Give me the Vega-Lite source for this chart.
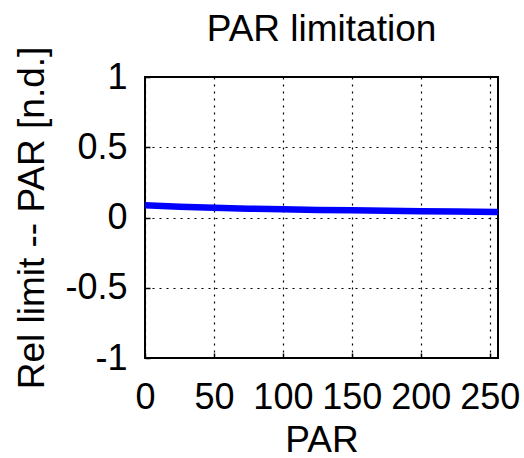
{
  "$schema": "https://vega.github.io/schema/vega-lite/v6.json",
  "width": 353,
  "height": 281,
  "autosize": "none",
  "padding": {"left": 145, "top": 77, "right": 26, "bottom": 100},
  "background": "white",
  "title": {"text": "PAR limitation", "font": "Liberation Sans", "fontSize": 37, "fontWeight": "normal", "color": "#000", "offset": -3},
  "config": {
    "view": {"stroke": "#000", "strokeWidth": 2},
    "axis": {
      "labelFont": "Liberation Sans", "labelFontSize": 36, "labelColor": "#000",
      "titleFont": "Liberation Sans", "titleFontSize": 37, "titleColor": "#000", "titleFontWeight": "normal",
      "grid": true, "gridColor": "#000", "gridDash": [2, 5], "gridWidth": 1.2, "gridOpacity": 1,
      "domain": false, "tickColor": "#000", "tickSize": -5, "tickWidth": 1.5
    }
  },
  "data": {"values": [
    {"PAR": 0, "rel": 0.088},
    {"PAR": 25, "rel": 0.077},
    {"PAR": 50, "rel": 0.069},
    {"PAR": 75, "rel": 0.063},
    {"PAR": 100, "rel": 0.058},
    {"PAR": 125, "rel": 0.054},
    {"PAR": 150, "rel": 0.051},
    {"PAR": 175, "rel": 0.048},
    {"PAR": 200, "rel": 0.045},
    {"PAR": 225, "rel": 0.043},
    {"PAR": 256, "rel": 0.040}
  ]},
  "mark": {"type": "line", "color": "#0000ff", "strokeWidth": 6.5, "clip": true},
  "encoding": {
    "x": {"field": "PAR", "type": "quantitative", "scale": {"domain": [0, 256], "nice": false},
      "axis": {"values": [0, 50, 100, 150, 200, 250], "title": "PAR", "labelPadding": 27, "titlePadding": 7, "labelFlush": false, "labelOverlap": false}},
    "y": {"field": "rel", "type": "quantitative", "scale": {"domain": [-1, 1], "nice": false},
      "axis": {"values": [-1, -0.5, 0, 0.5, 1], "labelExpr": "'' + datum.value", "title": "Rel limit -- PAR [n.d.]", "labelPadding": 23, "titlePadding": 13}}
  }
}
